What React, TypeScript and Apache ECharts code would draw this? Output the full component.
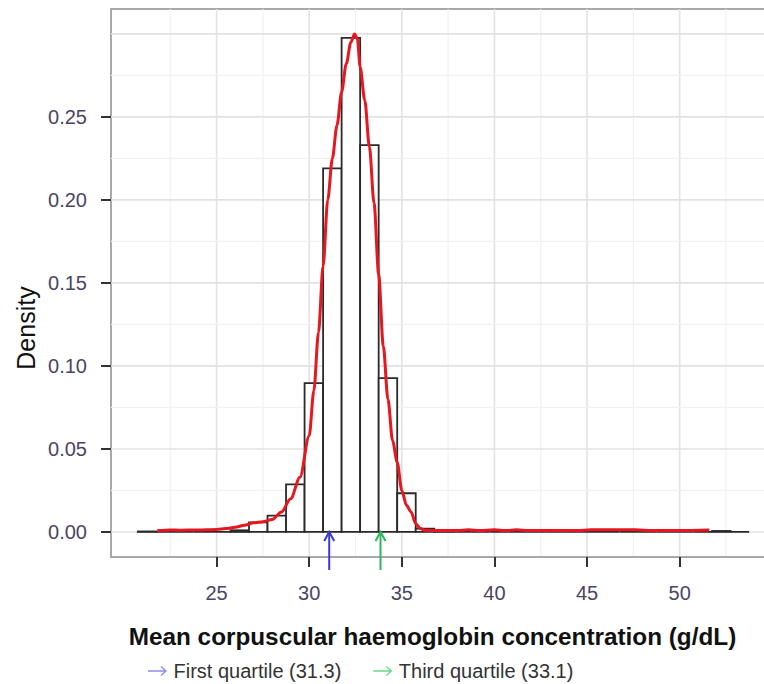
import React, { useEffect, useRef } from "react";
import * as echarts from "echarts";

// Histogram bins: [start, end] and density
const binStarts = [20.75, 21.75, 22.75, 23.75, 24.75, 25.75, 26.75, 27.75, 28.75, 29.75, 30.75, 31.75, 32.75, 33.75, 34.75, 35.75, 36.75, 37.75, 38.75, 39.75, 40.75, 41.75, 42.75, 43.75, 44.75, 45.75, 46.75, 47.75, 48.75, 49.75, 50.75, 51.75, 52.75];
const binDensity = [0.0003, 0, 0, 0, 0, 0.001, 0.0058, 0.0098, 0.0287, 0.0896, 0.219, 0.2976, 0.233, 0.0926, 0.0233, 0.002, 0.0008, 0, 0, 0, 0, 0, 0, 0, 0, 0, 0, 0, 0, 0, 0, 0.0006, 0];
const binWidth = 1;

// Kernel density curve
const densX = [21.8, 22.5, 23, 24, 25, 25.5, 26, 26.5, 27, 27.5, 28, 28.5, 29, 29.5, 30, 30.25, 30.5, 30.75, 31, 31.25, 31.5, 31.75, 32, 32.25, 32.45, 32.6, 32.75, 33, 33.25, 33.5, 33.75, 34, 34.25, 34.5, 34.75, 35, 35.25, 35.5, 35.75, 36, 36.25, 37, 38, 38.6, 39.2, 40, 40.6, 41.2, 41.8, 43, 44.5, 45.2, 46, 46.8, 47.6, 48.5, 50, 51.6];
const densY = [0.0008, 0.0012, 0.001, 0.0012, 0.0015, 0.002, 0.0028, 0.004, 0.0055, 0.0062, 0.0075, 0.012, 0.02, 0.033, 0.058, 0.085, 0.12, 0.16, 0.2, 0.225, 0.245, 0.265, 0.282, 0.295, 0.3, 0.297, 0.28, 0.26, 0.232, 0.198, 0.155, 0.112, 0.08, 0.055, 0.042, 0.025, 0.016, 0.012, 0.005, 0.002, 0.001, 0.0008, 0.0008, 0.0013, 0.0008, 0.0013, 0.0008, 0.0013, 0.0008, 0.0008, 0.0008, 0.0013, 0.0013, 0.0013, 0.0013, 0.0008, 0.0008, 0.0012];

// Quartile arrows (positions as drawn)
const quartileNames = ["First quartile (31.3)", "Third quartile (33.1)"];
const quartilePos = [31.08, 33.85];
const quartileColors = ["#3a3ad8", "#2fb55c"];
const legendColors = ["#8c8cf2", "#6ad98c"];

// Axis ticks and grid
const xTicks = [25, 30, 35, 40, 45, 50];
const xMinor = [22.5, 27.5, 32.5, 37.5, 42.5, 47.5, 52.5];
const yTicks = [0, 0.05, 0.1, 0.15, 0.2, 0.25];
const yMajorGrid = [0, 0.05, 0.1, 0.15, 0.2, 0.25, 0.3];
const yMinorGrid = [0.025, 0.075, 0.125, 0.175, 0.225, 0.275];

const X_MIN = 19.3;
const X_MAX = 55.2;
const Y_MIN = -0.0151;
const Y_MAX = 0.315;
const ARROW_BOTTOM = -0.0229;

const FONT = "Liberation Sans, Arial, sans-serif";
const ARROW_ICON = "path://M0,4.2 L16,4.2 L12.5,0.8 L13.5,0 L19,5 L13.5,10 L12.5,9.2 L16,5.8 L0,5.8 Z";

export default function App() {
  const ref = useRef<HTMLDivElement>(null);

  useEffect(() => {
    document.body.style.margin = "0";
    if (!ref.current) return;
    const chart = echarts.init(ref.current, null, { renderer: "svg" });

    const histData = binStarts.map((s, i) => [s, s + binWidth, binDensity[i]]);
    const densData = densX.map((x, i) => [x, densY[i]]);
    const xGridData = [...xTicks.map((v) => [v, 1]), ...xMinor.map((v) => [v, 0])];
    const yGridData = [...yMajorGrid.map((v) => [X_MIN, v, 1]), ...yMinorGrid.map((v) => [X_MIN, v, 0])];

    const arrowSeries = quartileNames.map((name, i) => ({
      type: "custom",
      name,
      clip: false,
      z: 10,
      color: quartileColors[i],
      data: [[quartilePos[i], 0]],
      renderItem: (params: any, api: any) => {
        const x = api.value(0);
        const top = api.coord([x, 0]);
        const bot = api.coord([x, ARROW_BOTTOM]);
        return {
          type: "group",
          children: [
            {
              type: "line",
              shape: { x1: bot[0], y1: bot[1], x2: top[0], y2: top[1] },
              style: { stroke: quartileColors[i], lineWidth: 2 },
            },
            {
              type: "polyline",
              shape: { points: [[top[0] - 5, top[1] + 9], [top[0], top[1]], [top[0] + 5, top[1] + 9]] },
              style: { stroke: quartileColors[i], lineWidth: 2, fill: "none" },
            },
          ],
        };
      },
    }));

    chart.setOption({
      animation: false,
      backgroundColor: "#ffffff",
      textStyle: { fontFamily: FONT },
      grid: {
        left: 111,
        top: 9,
        right: -12,
        bottom: 127,
        outerBoundsMode: "none",
        containLabel: false,
        show: true,
        borderColor: "#a9a9a9",
        borderWidth: 2,
        backgroundColor: "transparent",
      },
      legend: {
        left: 143,
        top: 656,
        itemGap: 32,
        itemWidth: 22,
        itemHeight: 10,
        selectedMode: false,
        textStyle: { fontSize: 20, color: "#333", fontFamily: FONT },
        data: quartileNames.map((n, i) => ({ name: n, icon: ARROW_ICON, itemStyle: { color: legendColors[i] } })),
      },
      xAxis: {
        type: "value",
        min: X_MIN,
        max: X_MAX,
        name: "Mean corpuscular haemoglobin concentration (g/dL)",
        nameLocation: "middle",
        nameGap: 67,
        nameTextStyle: { fontSize: 24.3, fontWeight: "bold", color: "#111", fontFamily: FONT, padding: [0, 22, 0, 0] },
        axisLine: { show: true, onZero: false, lineStyle: { color: "#a9a9a9", width: 2 } },
        axisTick: { show: true, inside: false, customValues: xTicks, length: 10, lineStyle: { color: "#333", width: 2 } },
        axisLabel: {
          customValues: xTicks,
          margin: 26,
          fontSize: 20,
          color: "#4b4565",
          fontFamily: FONT,
          formatter: (v: number) => String(v),
        },
        splitLine: { show: false },
      },
      yAxis: {
        type: "value",
        min: Y_MIN,
        max: Y_MAX,
        axisLine: { show: false, onZero: false },
        axisTick: { show: true, customValues: yTicks, length: 10, lineStyle: { color: "#333", width: 2 } },
        axisLabel: {
          customValues: yTicks,
          margin: 24,
          fontSize: 20,
          color: "#4b4565",
          fontFamily: FONT,
          formatter: (v: number) => v.toFixed(2),
        },
        splitLine: { show: false },
      },
      graphic: [
        {
          type: "text",
          x: 26,
          y: 328,
          rotation: Math.PI / 2,
          style: {
            text: "Density",
            fontSize: 25,
            fontFamily: FONT,
            fill: "#111",
            align: "center",
            verticalAlign: "middle",
          },
        },
      ],
      series: [
        {
          type: "custom",
          name: "xgrid",
          silent: true,
          z: 0,
          data: xGridData,
          renderItem: (params: any, api: any) => {
            const v = api.value(0);
            const major = api.value(1) === 1;
            const cs = params.coordSys;
            const p = api.coord([v, 0]);
            return {
              type: "line",
              shape: { x1: p[0], y1: cs.y, x2: p[0], y2: cs.y + cs.height },
              style: { stroke: major ? "#e2e2e2" : "#f1f1f1", lineWidth: major ? 1.6 : 1.2 },
            };
          },
        },
        {
          type: "custom",
          name: "ygrid",
          silent: true,
          z: 0,
          data: yGridData,
          renderItem: (params: any, api: any) => {
            const v = api.value(1);
            const major = api.value(2) === 1;
            const cs = params.coordSys;
            const p = api.coord([X_MIN, v]);
            return {
              type: "line",
              shape: { x1: cs.x, y1: p[1], x2: cs.x + cs.width, y2: p[1] },
              style: { stroke: major ? "#e2e2e2" : "#f1f1f1", lineWidth: major ? 1.6 : 1.2 },
            };
          },
        },
        {
          type: "custom",
          name: "histogram",
          z: 2,
          data: histData,
          renderItem: (params: any, api: any) => {
            const p0 = api.coord([api.value(0), api.value(2)]);
            const p1 = api.coord([api.value(1), 0]);
            return {
              type: "rect",
              shape: { x: p0[0], y: p0[1], width: p1[0] - p0[0], height: p1[1] - p0[1] },
              style: { fill: "#ffffff", stroke: "#2a2a2a", lineWidth: 1.8 },
            };
          },
        },
        {
          type: "line",
          name: "density",
          z: 5,
          data: densData,
          showSymbol: false,
          smooth: 0.3,
          smoothMonotone: "x",
          lineStyle: { color: "#e8161e", width: 3 },
        },
        ...arrowSeries,
      ],
    });

    return () => chart.dispose();
  }, []);

  return <div ref={ref} style={{ width: 764, height: 684 }} />;
}
